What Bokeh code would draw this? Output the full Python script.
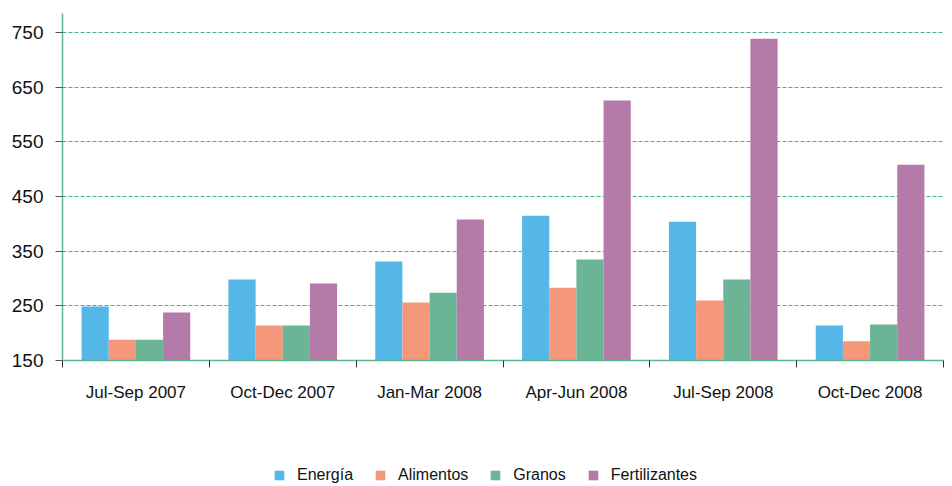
from bokeh.plotting import figure
from bokeh.layouts import column
from bokeh.models import (ColumnDataSource, Range1d, FixedTicker, Legend, LegendItem)
from bokeh.transform import dodge
from bokeh.embed import file_html
from bokeh.resources import INLINE

categories = ["Jul-Sep 2007", "Oct-Dec 2007", "Jan-Mar 2008",
              "Apr-Jun 2008", "Jul-Sep 2008", "Oct-Dec 2008"]
energia = [249, 298, 331, 415, 404, 214]
alimentos = [188, 214, 256, 283, 260, 185]
granos = [188, 214, 274, 335, 298, 216]
fertilizantes = [238, 291, 408, 626, 739, 508]
y_ticks = [150, 250, 350, 450, 550, 650, 750]

series = [("Energía", energia, "#55b7e8"),
          ("Alimentos", alimentos, "#f4977a"),
          ("Granos", granos, "#6bb495"),
          ("Fertilizantes", fertilizantes, "#b47aa8")]

idx = list(range(len(categories)))
data = {"x": idx}
for name, vals, _ in series:
    data[name] = vals
src = ColumnDataSource(data)

FONT = "Liberation Sans"

# main chart
p = figure(width=952, height=404, output_backend="svg", toolbar_location=None,
           x_range=Range1d(-0.5, len(categories) - 0.5),
           y_range=Range1d(150, 785))
p.min_border_left = 62
p.min_border_right = 9
p.min_border_top = 13
p.min_border_bottom = 0
p.outline_line_color = None
p.background_fill_color = "white"

bw = 0.185
offsets = [-1.5 * bw, -0.5 * bw, 0.5 * bw, 1.5 * bw]
for (name, vals, col), off in zip(series, offsets):
    p.vbar(x=dodge("x", off, range=p.x_range), top=name, bottom=150,
           width=bw, source=src, fill_color=col, line_color=None)

# x axis
xa = p.xaxis[0]
xa.ticker = FixedTicker(ticks=idx, minor_ticks=[i - 0.5 for i in range(len(categories) + 1)])
xa.major_label_overrides = {i: c for i, c in enumerate(categories)}
xa.major_tick_line_color = None
xa.major_tick_out = 0
xa.major_tick_in = 0
xa.minor_tick_out = 7
xa.minor_tick_in = 0
xa.minor_tick_line_color = "#333333"
xa.axis_line_color = "#5cb38e"
xa.axis_line_width = 1.5
xa.major_label_text_font = FONT
xa.major_label_text_font_size = "17px"
xa.major_label_text_color = "#111111"
xa.major_label_standoff = 15

# y axis
ya = p.yaxis[0]
ya.ticker = FixedTicker(ticks=y_ticks)
ya.axis_line_color = "#5cb38e"
ya.axis_line_width = 1.5
ya.major_tick_line_color = "#555555"
ya.major_tick_out = 7
ya.major_tick_in = 0
ya.minor_tick_line_color = None
ya.major_label_text_font = FONT
ya.major_label_text_font_size = "19px"
ya.major_label_text_color = "#111111"
ya.major_label_standoff = 12

p.xgrid.grid_line_color = None
p.ygrid.ticker = FixedTicker(ticks=y_ticks[1:])
p.ygrid.grid_line_color = "#4fae8c"
p.ygrid.grid_line_dash = "4 2"
p.ygrid.grid_line_width = 1

# legend strip (zero-height bars serve only as legend glyph sources)
p2 = figure(width=952, height=82, output_backend="svg", toolbar_location=None,
            x_range=Range1d(-0.5, len(categories) - 0.5), y_range=Range1d(0, 1))
p2.min_border = 0
p2.outline_line_color = None
p2.axis.visible = False
p2.grid.visible = False
items = []
for name, vals, col in series:
    r = p2.vbar(x="x", top=0, bottom=0, width=bw, source=src,
                fill_color=col, line_color=None)
    items.append(LegendItem(label=name, renderers=[r]))

legend = Legend(items=items, orientation="horizontal", location=(211, 2))
legend.label_text_font = FONT
legend.label_text_font_size = "16px"
legend.label_text_color = "#111111"
legend.glyph_width = 12
legend.glyph_height = 12
legend.label_standoff = 12
legend.spacing = 21
legend.padding = 0
legend.margin = 0
legend.border_line_color = None
legend.background_fill_alpha = 0
p2.add_layout(legend, "center")

layout = column(p, p2, spacing=0)
open("out.html", "w").write(file_html(layout, INLINE))
